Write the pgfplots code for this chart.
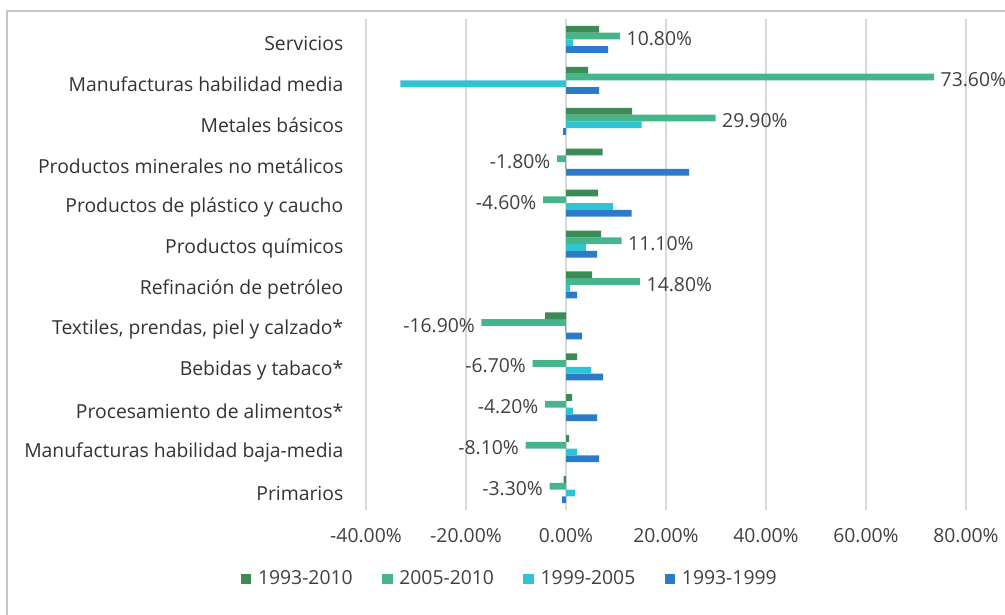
\documentclass[border=0pt]{standalone}
\usepackage{pgfplots}
\pgfplotsset{compat=1.18}
\usepackage{fontspec}
\setmainfont{Open Sans}
\definecolor{cA}{RGB}{59,139,85}
\definecolor{cB}{RGB}{69,181,140}
\definecolor{cC}{RGB}{46,196,214}
\definecolor{cD}{RGB}{43,123,200}
\definecolor{txt}{RGB}{51,51,51}
\definecolor{tck}{RGB}{64,64,64}
\definecolor{grd}{RGB}{217,217,217}
\begin{document}
\fontsize{14.5pt}{17pt}\selectfont
\begin{tikzpicture}
\begin{axis}[
  scale only axis,
  width=450pt, height=368.25pt,
  xbar=0pt, bar width=5.06pt,
  xmin=-40, xmax=80,
  ymin=-0.5, ymax=11.5,
  xtick={-40,-20,...,80},
  xmajorgrids, grid style={grd, line width=0.8pt},
  axis line style={draw=none},
  major tick length=0pt,
  ytick={0,...,11},
  yticklabels={Primarios,Manufacturas habilidad baja-media,Procesamiento de alimentos*,Bebidas y tabaco*,{Textiles, prendas, piel y calzado*},Refinación de petróleo,Productos químicos,Productos de plástico y caucho,Productos minerales no metálicos,Metales básicos,Manufacturas habilidad media,Servicios},
  yticklabel style={font=\fontsize{14.5pt}{17pt}\selectfont, text=txt, xshift=-12pt, yshift=-3pt},
  xticklabel={\pgfmathprintnumber[fixed,fixed zerofill,precision=2]{\tick}\%},
  xticklabel style={font=\fontsize{14.5pt}{17pt}\selectfont, text=tck, yshift=-9pt},
  /pgf/number format/assume math mode=true,
  legend style={at={(0.24,-0.1405)}, anchor=center, draw=none, legend columns=-1,
    font=\fontsize{14.5pt}{17pt}\selectfont, text=tck,
    /tikz/every odd column/.append style={column sep=3pt},
    /tikz/every even column/.append style={column sep=20pt}},
  legend cell align=left,
  reverse legend,
  legend image code/.code={\fill[#1] (2pt,-4pt) rectangle (10pt,4pt);},
]
\addplot[fill=cD, draw=none] coordinates {
(-0.8,0) (6.6,1) (6.2,2) (7.4,3) (3.2,4) (2.2,5) (6.2,6) (13.1,7) (24.6,8) (-0.6,9) (6.6,10) (8.4,11)};
\addplot[fill=cC, draw=none] coordinates {
(1.8,0) (2.2,1) (1.4,2) (5.0,3) (-0.2,4) (0.8,5) (4.0,6) (9.4,7) (-0.2,8) (15.1,9) (-33.1,10) (1.4,11)};
\addplot[fill=cB, draw=none,
  nodes near coords={\pgfmathprintnumber[fixed,fixed zerofill,precision=2]{\pgfplotspointmeta}\%},
  nodes near coords align={horizontal},
  every node near coord/.append style={font=\fontsize{14.5pt}{17pt}\selectfont, text=tck, yshift=-2pt},
  /pgf/number format/assume math mode=true] coordinates {
(-3.3,0) (-8.1,1) (-4.2,2) (-6.7,3) (-16.9,4) (14.8,5) (11.1,6) (-4.6,7) (-1.8,8) (29.9,9) (73.6,10) (10.8,11)};
\addplot[fill=cA, draw=none] coordinates {
(-0.5,0) (0.6,1) (1.2,2) (2.2,3) (-4.2,4) (5.2,5) (7.0,6) (6.4,7) (7.3,8) (13.2,9) (4.4,10) (6.6,11)};
\legend{1993-1999,1999-2005,2005-2010,1993-2010}
\end{axis}
\pgfresetboundingbox
\useasboundingbox ([xshift=-274.5pt,yshift=-78pt]current axis.south west) rectangle ([xshift=479.25pt,yshift=382.5pt]current axis.south west);
\draw[grd!80!gray, line width=1.2pt] ([xshift=-269.25pt,yshift=-80pt]current axis.south west) -- ([xshift=-269.25pt,yshift=374.25pt]current axis.south west) -- ([xshift=482pt,yshift=374.25pt]current axis.south west);
\end{tikzpicture}
\end{document}
